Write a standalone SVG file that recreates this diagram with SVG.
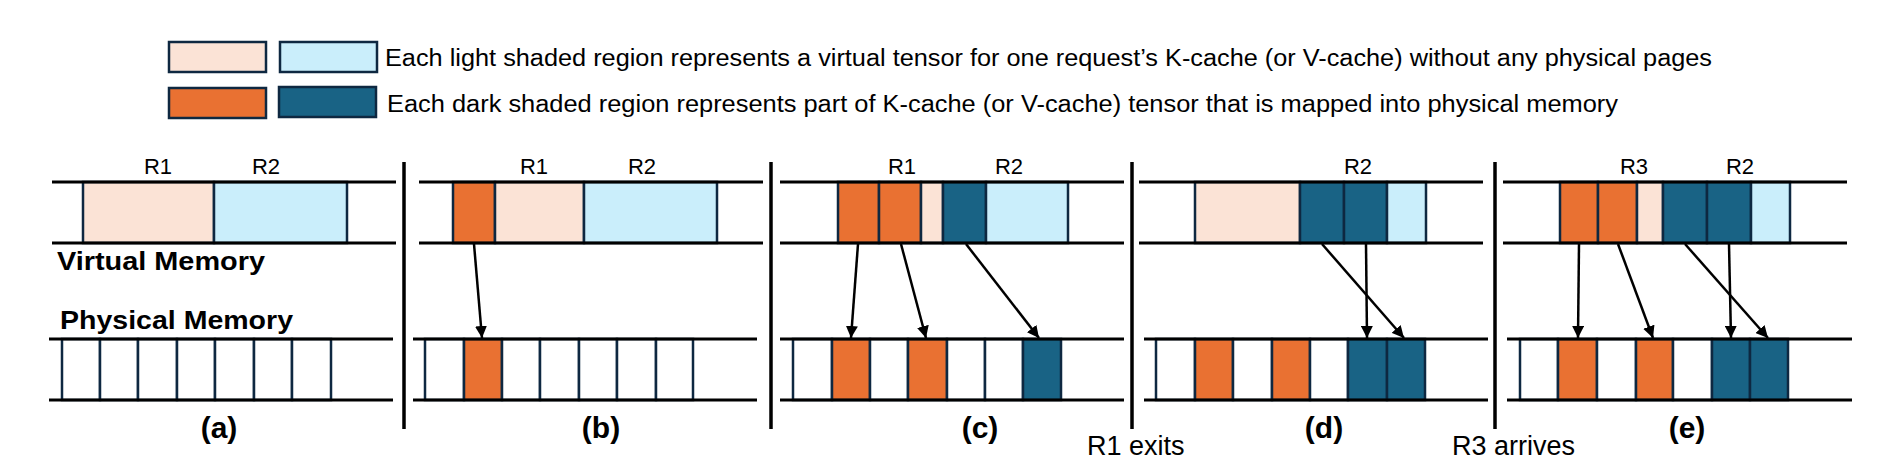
<svg xmlns="http://www.w3.org/2000/svg" width="1892" height="468" viewBox="0 0 1892 468">
<style>
.ln{stroke:#000;stroke-width:3;fill:none}
.sep{stroke:#000;stroke-width:3.5;fill:none}
.c{stroke:#0E2841;stroke-width:2.5}
.pk{fill:#FBE3D6}.lb{fill:#CAEEFB}.or{fill:#E97132}.db{fill:#196385}.w{fill:#fff}
.t{font-family:"Liberation Sans",Arial,sans-serif;fill:#000}
.lg{font-size:23.5px}
.rl{font-size:22px;text-anchor:middle}
.cap{font-size:30px;font-weight:bold;text-anchor:middle}
.mem{font-size:25px;font-weight:bold}
.ev{font-size:27px}
.ar{stroke:#000;stroke-width:2.5;fill:none;marker-end:url(#ah)}
</style>
<defs>
<marker id="ah" markerUnits="userSpaceOnUse" markerWidth="13" markerHeight="12" refX="12" refY="6" orient="auto">
<path d="M0,0 L12,6 L0,12 z" fill="#000"/>
</marker>
</defs>
<rect width="1892" height="468" fill="#fff"/>

<g id="legend">
<rect class="c pk" x="169" y="42" width="97" height="30"/>
<rect class="c lb" x="280" y="42" width="97" height="30"/>
<rect class="c or" x="169" y="88" width="97" height="30"/>
<rect class="c db" x="279" y="87" width="97" height="30"/>
<text class="t lg" x="385" y="66" textLength="1327" lengthAdjust="spacingAndGlyphs">Each light shaded region represents a virtual tensor for one request’s K-cache (or V-cache) without any physical pages</text>
<text class="t lg" x="387" y="112" textLength="1231" lengthAdjust="spacingAndGlyphs">Each dark shaded region represents part of K-cache (or V-cache) tensor that is mapped into physical memory</text>
</g>

<g id="separators">
<line class="sep" x1="404" y1="162" x2="404" y2="429"/>
<line class="sep" x1="771" y1="162" x2="771" y2="429"/>
<line class="sep" x1="1132" y1="162" x2="1132" y2="429"/>
<line class="sep" x1="1495" y1="162" x2="1495" y2="429"/>
</g>

<g id="panel-a">
<rect class="c pk" x="83" y="182" width="131" height="61"/>
<rect class="c lb" x="214" y="182" width="133" height="61"/>
<rect class="c w" x="62" y="339" width="38" height="61"/>
<rect class="c w" x="100" y="339" width="38" height="61"/>
<rect class="c w" x="138" y="339" width="39" height="61"/>
<rect class="c w" x="177" y="339" width="38" height="61"/>
<rect class="c w" x="215" y="339" width="39" height="61"/>
<rect class="c w" x="254" y="339" width="38" height="61"/>
<rect class="c w" x="292" y="339" width="39" height="61"/>
<line class="ln" x1="52" y1="182" x2="396" y2="182"/>
<line class="ln" x1="52" y1="243" x2="396" y2="243"/>
<line class="ln" x1="49" y1="339" x2="393" y2="339"/>
<line class="ln" x1="49" y1="400" x2="393" y2="400"/>
<text class="t rl" x="158" y="174">R1</text>
<text class="t rl" x="266" y="174">R2</text>
<text class="t mem" x="57" y="270" textLength="208" lengthAdjust="spacingAndGlyphs">Virtual Memory</text>
<text class="t mem" x="60" y="329" textLength="233" lengthAdjust="spacingAndGlyphs">Physical Memory</text>
<text class="t cap" x="219" y="438">(a)</text>
</g>

<g id="panel-b">
<rect class="c or" x="453" y="182" width="42" height="61"/>
<rect class="c pk" x="495" y="182" width="89" height="61"/>
<rect class="c lb" x="584" y="182" width="133" height="61"/>
<rect class="c w" x="425" y="339" width="39" height="61"/>
<rect class="c or" x="464" y="339" width="38" height="61"/>
<rect class="c w" x="502" y="339" width="38" height="61"/>
<rect class="c w" x="540" y="339" width="39" height="61"/>
<rect class="c w" x="579" y="339" width="38" height="61"/>
<rect class="c w" x="617" y="339" width="39" height="61"/>
<rect class="c w" x="656" y="339" width="37" height="61"/>
<line class="ln" x1="419" y1="182" x2="763" y2="182"/>
<line class="ln" x1="419" y1="243" x2="763" y2="243"/>
<line class="ln" x1="413" y1="339" x2="757" y2="339"/>
<line class="ln" x1="413" y1="400" x2="757" y2="400"/>
<text class="t rl" x="534" y="174">R1</text>
<text class="t rl" x="642" y="174">R2</text>
<text class="t cap" x="601" y="438">(b)</text>
</g>

<g id="panel-c">
<rect class="c or" x="838" y="182" width="41" height="61"/>
<rect class="c or" x="879" y="182" width="42" height="61"/>
<rect class="c pk" x="921" y="182" width="22" height="61"/>
<rect class="c db" x="943" y="182" width="43" height="61"/>
<rect class="c lb" x="986" y="182" width="82" height="61"/>
<rect class="c w" x="793" y="339" width="39" height="61"/>
<rect class="c or" x="832" y="339" width="38" height="61"/>
<rect class="c w" x="870" y="339" width="38" height="61"/>
<rect class="c or" x="908" y="339" width="39" height="61"/>
<rect class="c w" x="947" y="339" width="38" height="61"/>
<rect class="c w" x="985" y="339" width="38" height="61"/>
<rect class="c db" x="1023" y="339" width="38" height="61"/>
<line class="ln" x1="780" y1="182" x2="1124" y2="182"/>
<line class="ln" x1="780" y1="243" x2="1124" y2="243"/>
<line class="ln" x1="780" y1="339" x2="1124" y2="339"/>
<line class="ln" x1="780" y1="400" x2="1124" y2="400"/>
<text class="t rl" x="902" y="174">R1</text>
<text class="t rl" x="1009" y="174">R2</text>
<text class="t cap" x="980" y="438">(c)</text>
</g>

<g id="panel-d">
<rect class="c pk" x="1195" y="182" width="105" height="61"/>
<rect class="c db" x="1300" y="182" width="44" height="61"/>
<rect class="c db" x="1344" y="182" width="43" height="61"/>
<rect class="c lb" x="1387" y="182" width="39" height="61"/>
<rect class="c w" x="1156" y="339" width="39" height="61"/>
<rect class="c or" x="1195" y="339" width="38" height="61"/>
<rect class="c w" x="1233" y="339" width="39" height="61"/>
<rect class="c or" x="1272" y="339" width="38" height="61"/>
<rect class="c w" x="1310" y="339" width="38" height="61"/>
<rect class="c db" x="1348" y="339" width="39" height="61"/>
<rect class="c db" x="1387" y="339" width="38" height="61"/>
<line class="ln" x1="1139" y1="182" x2="1483" y2="182"/>
<line class="ln" x1="1139" y1="243" x2="1483" y2="243"/>
<line class="ln" x1="1144" y1="339" x2="1488" y2="339"/>
<line class="ln" x1="1144" y1="400" x2="1488" y2="400"/>
<text class="t rl" x="1358" y="174">R2</text>
<text class="t cap" x="1324" y="438">(d)</text>
</g>

<g id="panel-e">
<rect class="c or" x="1560" y="182" width="38" height="61"/>
<rect class="c or" x="1598" y="182" width="39" height="61"/>
<rect class="c pk" x="1637" y="182" width="26" height="61"/>
<rect class="c db" x="1663" y="182" width="44" height="61"/>
<rect class="c db" x="1707" y="182" width="44" height="61"/>
<rect class="c lb" x="1751" y="182" width="39" height="61"/>
<rect class="c w" x="1520" y="339" width="38" height="61"/>
<rect class="c or" x="1558" y="339" width="39" height="61"/>
<rect class="c w" x="1597" y="339" width="39" height="61"/>
<rect class="c or" x="1636" y="339" width="37" height="61"/>
<rect class="c w" x="1673" y="339" width="39" height="61"/>
<rect class="c db" x="1712" y="339" width="38" height="61"/>
<rect class="c db" x="1750" y="339" width="38" height="61"/>
<line class="ln" x1="1503" y1="182" x2="1847" y2="182"/>
<line class="ln" x1="1503" y1="243" x2="1847" y2="243"/>
<line class="ln" x1="1507" y1="339" x2="1852" y2="339"/>
<line class="ln" x1="1507" y1="400" x2="1852" y2="400"/>
<text class="t rl" x="1634" y="174">R3</text>
<text class="t rl" x="1740" y="174">R2</text>
<text class="t cap" x="1687" y="438">(e)</text>
</g>

<g id="events">
<text class="t ev" x="1087" y="455">R1 exits</text>
<text class="t ev" x="1452" y="455">R3 arrives</text>
</g>

<g id="connectors">
<line class="ar" x1="474" y1="244" x2="482" y2="338"/>
<line class="ar" x1="858" y1="244" x2="851" y2="338"/>
<line class="ar" x1="901" y1="244" x2="926" y2="338"/>
<line class="ar" x1="966" y1="244" x2="1039" y2="338"/>
<line class="ar" x1="1322" y1="244" x2="1404" y2="338"/>
<line class="ar" x1="1366" y1="244" x2="1367" y2="338"/>
<line class="ar" x1="1579" y1="244" x2="1578" y2="338"/>
<line class="ar" x1="1618" y1="244" x2="1653" y2="338"/>
<line class="ar" x1="1685" y1="244" x2="1768" y2="338"/>
<line class="ar" x1="1729" y1="244" x2="1731" y2="338"/>
</g>
</svg>
